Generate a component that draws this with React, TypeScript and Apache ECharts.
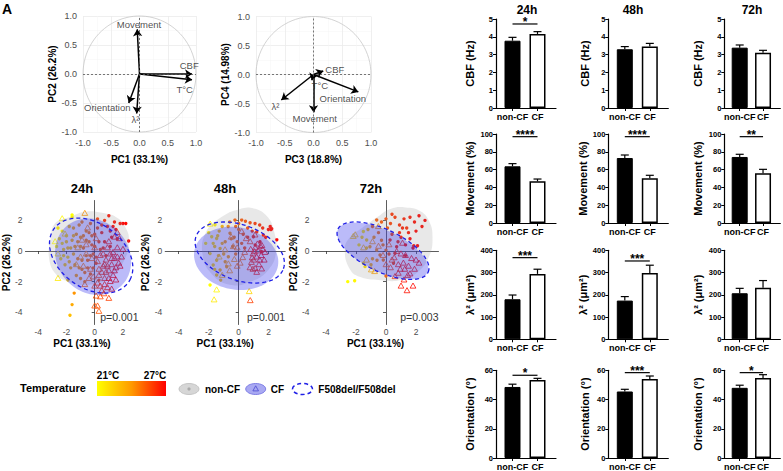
import React, { useEffect, useRef } from 'react';
import * as echarts from 'echarts';

const W = 783;
const H = 471;
const FONT = '"Liberation Sans Narrow", "Arial Narrow", "Liberation Sans", Arial, sans-serif';

// ---------- PCA biplots ----------
const vars1 = ['Movement', 'CBF', 'T°C', 'Orientation', 'λ²'];
const load1 = [[-0.04, 0.77], [0.93, 0.0], [0.93, -0.1], [-0.19, -0.5], [-0.05, -0.68]];
const lab1 = [[-0.01, 0.86], [0.88, 0.15], [0.8, -0.26], [-0.57, -0.57], [-0.07, -0.79]];
const vars2 = ['CBF', 'T°C', 'Orientation', 'λ²', 'Movement'];
const load2 = [[0.17, 0.06], [-0.03, -0.1], [0.78, -0.3], [-0.56, -0.44], [0.0, -0.65]];
const lab2 = [[0.37, 0.08], [0.11, -0.19], [0.51, -0.42], [-0.66, -0.56], [0.02, -0.76]];

// ---------- PCA score plots (PC1, PC2, temperature °C) ----------
const times = ['24h', '48h', '72h'];
const pValues = ['p=0.001', 'p=0.001', 'p=0.003'];
const scoreTicks = [-4, -2, 0, 2];

const nonCF24 = [
  [-2.7, 0.3, 21.0], [-2.5, 0.8, 21.4], [-2.3, 1.3, 21.2], [-2.2, 0.1, 21.8], [-2.0, 0.6, 22.0], [-1.9, -0.4, 21.6],
  [-1.6, 2.2, 21.3], [-1.6, 2.35, 21.0], [-2.6, 1.5, 21.4], [-2.1, -0.9, 22.0], [-1.8, 1.6, 22.2], [-1.5, 1.0, 22.4],
  [-2.4, -0.5, 21.5], [-1.7, 0.2, 22.3], [-1.4, 0.3, 23.0], [-1.2, -0.5, 23.5], [-1.0, 0.9, 23.2], [-0.9, -1.2, 23.8],
  [-0.8, 0.2, 24.0], [-0.6, 1.3, 23.6], [-0.5, -0.6, 24.2], [-0.4, 0.6, 24.0], [-0.3, -1.5, 24.5], [-0.2, 1.0, 24.3],
  [-1.3, -1.6, 23.0], [-1.1, 1.7, 23.4], [-0.7, -2.0, 24.0], [0.0, 0.3, 24.6], [0.1, -0.8, 24.8], [0.2, 1.5, 25.0],
  [-1.7, -1.1, 22.8], [-1.5, -0.2, 22.6], [-0.9, 1.9, 23.8], [-0.1, -0.2, 24.5], [-1.2, 0.6, 23.3], [-0.6, -0.3, 23.9],
  [0.2, 2.1, 25.5], [0.5, 1.2, 25.8], [0.7, 0.6, 26.0], [0.9, 1.6, 26.2], [1.0, 2.3, 26.6], [1.2, 0.9, 26.4],
  [1.3, 1.6, 26.8], [1.4, 1.9, 26.5], [1.5, 1.4, 26.9], [1.8, 1.8, 26.7], [2.0, 1.8, 27.0], [2.2, 1.8, 26.8],
  [2.4, 0.65, 27.0], [1.1, 0.3, 26.0], [0.8, -0.3, 25.6], [0.4, 0.1, 25.2], [1.6, 0.8, 26.5],
  [-1.45, -2.75, 23.5], [-1.6, -3.5, 23.0], [-1.75, -4.2, 22.5], [-1.9, -1.9, 22.0],
  [-2.2, -0.3, 21.7], [-2.0, 1.0, 21.9], [-1.9, 0.2, 22.1], [-1.8, -0.7, 22.3], [-1.6, 0.7, 22.5], [-1.4, -0.9, 22.9],
  [-1.3, 1.1, 23.1], [-1.1, -1.1, 23.4], [-1.0, 0.3, 23.3], [-0.9, -0.6, 23.7], [-0.8, 1.0, 23.6], [-0.7, -1.4, 24.0],
  [-0.6, 0.7, 23.9], [-0.5, -1.1, 24.3], [-0.4, 1.2, 24.1], [-0.3, -0.3, 24.4], [-0.2, 0.4, 24.5], [-0.1, -1.1, 24.7],
  [0.0, 1.1, 24.8], [0.1, -0.4, 25.0], [0.3, 0.6, 25.3], [0.3, -1.9, 25.0], [-1.0, -1.8, 23.5], [-1.5, 1.5, 22.8],
  [-2.3, 0.5, 21.5], [-0.3, 1.8, 24.2], [0.5, 1.7, 25.6], [0.7, 2.0, 26.0], [1.1, 1.3, 26.4], [0.6, 0.2, 25.7],
];
const cf24 = [
  [-2.8, 0.6, 21.0], [-2.6, -0.2, 21.3], [-2.3, 2.1, 21.2], [-2.1, 1.1, 21.6], [-2.6, -1.8, 21.5], [-0.7, 2.45, 23.5],
  [-1.0, -0.4, 23.5], [-0.8, -1.0, 24.0], [-0.6, 0.4, 24.2], [-0.4, -1.8, 24.5], [-0.2, -0.5, 24.6], [0.0, -2.3, 25.0],
  [-0.5, 1.5, 24.0], [0.1, 0.8, 24.8], [0.3, -1.2, 25.2], [-1.3, -0.9, 23.2], [-0.9, 0.7, 23.8],
  [0.4, -0.3, 25.8], [0.6, -1.0, 26.0], [0.7, -1.8, 26.2], [0.8, -0.6, 26.3], [0.9, -2.4, 26.0], [1.0, -1.3, 26.5],
  [1.1, -0.2, 26.6], [1.2, -0.9, 26.8], [1.3, -1.6, 26.7], [1.4, -0.5, 27.0], [1.5, -1.1, 26.9], [1.6, 0.2, 26.8],
  [1.7, -0.8, 27.0], [1.1, -2.0, 26.4], [0.5, -2.6, 25.8], [0.2, -2.1, 25.5], [0.9, 0.2, 26.2], [1.4, 0.9, 26.5],
  [1.6, 1.2, 26.0], [1.75, 0.8, 26.3], [0.3, -1.6, 25.4], [0.6, -0.2, 26.0], [1.9, -0.4, 27.0], [1.2, -2.5, 26.3],
  [0.8, -1.4, 26.1], [1.3, -0.1, 26.7],
  [0.0, -3.6, 25.0], [0.2, -3.6, 25.2], [0.3, -3.95, 25.0], [0.4, -3.0, 25.3], [1.0, -3.1, 25.5], [0.65, -2.8, 25.4], [0.1, -2.95, 25.0],
  [-0.3, -1.2, 24.6], [-0.1, -1.7, 24.9], [0.2, -0.7, 25.4], [0.5, -1.4, 25.9], [0.7, -2.2, 26.1], [0.9, -1.0, 26.3],
  [1.0, -1.8, 26.5], [1.2, -0.5, 26.7], [1.4, -1.3, 26.9], [1.6, -0.4, 27.0], [1.8, -1.0, 26.8], [0.4, -2.3, 25.6],
  [0.7, -0.9, 26.2], [1.0, 0.6, 26.4], [-0.7, -2.2, 24.2], [-0.6, -0.2, 24.0], [0.0, 0.2, 24.8], [1.5, -1.9, 26.5],
  [2.0, 0.1, 27.0], [-1.2, 0.2, 23.3],
];
const nonCF48 = [
  [-1.91, -2.22, 21.0], [-1.58, 1.71, 21.2], [-1.8, 0.93, 21.5], [-1.47, 0.82, 21.8], [-1.24, 0.17, 22.2], [-1.91, -0.17, 21.6],
  [-1.47, -0.6, 22.0], [-1.7, -0.91, 21.8], [-1.24, -1.24, 22.5], [-1.47, -1.57, 22.0], [-2.2, 0.5, 21.3], [-1.6, 0.3, 22.0],
  [-1.3, 1.3, 22.4], [-2.0, 1.2, 21.4],
  [-0.69, -0.37, 23.0], [-0.8, -1.03, 23.0], [-0.58, 1.16, 23.5], [-0.3, 0.9, 24.0], [0.0, 1.4, 24.2], [-0.9, 0.6, 23.2],
  [-0.4, 0.3, 23.8], [-1.0, -0.2, 22.8], [-0.2, -0.2, 24.0], [0.2, 0.5, 24.5], [-0.7, 1.6, 23.6],
  [-0.25, 2.02, 24.8], [0.2, 2.02, 25.0], [0.45, 1.95, 25.2], [0.76, 1.85, 25.5], [1.09, 1.8, 25.8], [1.4, 1.7, 26.0],
  [0.0, 1.8, 24.6], [-0.6, 1.9, 24.0],
  [2.1, 1.6, 26.8], [1.98, 1.4, 27.0], [2.15, 1.4, 27.0], [2.2, 1.45, 26.9], [2.54, 0.73, 27.0], [0.98, 0.93, 26.2],
  [1.42, 0.6, 26.5], [1.64, 1.04, 26.7], [1.53, -0.04, 26.8], [0.6, 0.9, 25.6], [1.2, 1.25, 26.3],
  [-1.35, -0.3, 22.3], [-1.6, -1.2, 21.9], [-1.1, 0.5, 22.6], [-1.4, 1.0, 22.0], [-0.9, -0.7, 23.0], [-0.5, 0.8, 23.8],
  [-0.1, 0.6, 24.3], [0.3, 1.1, 24.9], [0.6, 1.5, 25.4], [0.9, 1.3, 25.9], [1.6, 1.5, 26.4], [1.8, 0.9, 26.8],
  [-0.2, 1.6, 24.5], [-1.1, 1.6, 22.8], [0.4, 0.2, 25.0], [1.1, 0.4, 26.0], [-1.7, 0.5, 21.7], [-1.2, -1.9, 22.2],
];
const cf48 = [
  [-1.47, -2.55, 21.2], [-1.64, -3.2, 21.5], [-1.9, 1.75, 21.3], [-1.3, -0.4, 22.3],
  [-0.29, -0.56, 23.5], [0.27, -0.44, 24.5], [-0.69, -0.85, 23.2], [-0.91, 0.07, 23.0], [-0.36, 0.28, 24.0], [0.2, 1.26, 24.8],
  [0.76, 0.6, 25.5], [1.09, 1.04, 25.8], [-0.1, -1.0, 24.2],
  [0.8, 0.1, 26.2], [0.95, -0.2, 26.5], [1.1, 0.2, 26.7], [1.2, -0.4, 26.8], [1.3, 0.0, 27.0], [1.4, -0.6, 26.9],
  [1.5, -0.3, 27.0], [1.6, 0.1, 26.6], [1.7, -0.6, 27.0], [1.0, -0.6, 26.4], [1.25, 0.45, 26.5], [1.55, 0.35, 26.8],
  [0.9, -0.45, 26.3], [0.75, -1.1, 26.0], [0.95, -1.2, 26.2], [1.1, -1.15, 26.4], [1.53, -1.18, 26.8],
  [0.77, -3.25, 25.5], [0.7, -2.66, 22.0],
  [-0.6, -1.3, 23.4], [0.1, -0.8, 24.4], [0.4, -0.1, 25.0], [0.5, 0.8, 25.2], [-0.5, 0.9, 23.8], [1.35, -0.9, 26.7],
  [1.75, -0.1, 26.9], [0.85, -0.75, 26.1], [1.45, 0.3, 26.6], [1.05, -0.05, 26.5], [-1.1, -1.6, 22.6], [1.2, -1.4, 26.5],
  [-0.1, 0.2, 24.2],
];
const nonCF72 = [
  [-0.62, 2.03, 24.8], [-0.3, 1.9, 25.0], [0.0, 2.1, 25.3], [0.3, 1.8, 25.5], [0.6, 2.2, 25.8], [0.9, 1.7, 26.0],
  [1.2, 2.1, 26.3], [1.38, 1.5, 26.0], [1.6, 2.2, 26.5], [1.9, 1.9, 26.7], [2.2, 2.3, 27.0], [2.4, 1.6, 26.8],
  [2.6, 2.0, 27.0], [-0.9, 1.6, 24.4], [0.4, 2.4, 25.8],
  [-1.51, 1.27, 21.3], [-1.29, 0.72, 21.8], [-1.51, -0.8, 21.5], [-1.4, -1.02, 21.6], [-2.55, -2.0, 21.0], [-2.09, -1.94, 21.2],
  [-1.8, 0.4, 21.4], [-1.2, 1.4, 22.3],
  [-1.07, 0.28, 23.0], [-0.62, 0.06, 23.5], [-0.4, -0.26, 23.8], [0.0, 0.06, 24.2], [-0.8, 0.9, 23.3], [-0.3, 0.7, 24.0],
  [-0.18, -0.59, 24.0], [0.0, -1.63, 24.8], [-0.9, -0.5, 23.0],
  [0.27, 0.72, 25.8], [0.71, 0.28, 26.2], [0.6, -0.15, 26.0], [1.0, 0.9, 26.5], [1.3, 0.4, 26.8], [1.6, 0.8, 27.0],
  [1.8, 0.2, 26.9], [2.1, 0.35, 27.0], [1.85, 0.35, 26.6], [0.9, 1.2, 26.3],
  [-1.3, 0.2, 22.0], [-1.0, -0.9, 22.6], [-0.6, -0.6, 23.4], [-0.2, 0.4, 24.0], [0.2, -0.2, 25.0], [0.4, 1.1, 25.4],
  [0.8, 0.6, 26.0], [1.1, 1.5, 26.3], [1.5, 1.2, 26.6], [2.0, 1.3, 26.9], [-0.5, 1.2, 24.2], [0.1, 1.5, 25.0],
  [-1.6, 0.9, 21.6], [1.3, -0.3, 26.5], [0.5, -0.8, 25.5],
];
const cf72 = [
  [-2.18, 0.94, 22.0], [-2.05, 1.05, 22.2], [-0.51, 1.59, 23.5], [-0.98, -1.24, 23.0], [-0.76, -1.35, 23.2],
  [-1.5, 0.2, 22.5], [-0.5, 0.3, 24.0], [0.2, 0.4, 24.8], [-0.2, -0.3, 24.5],
  [0.71, -0.04, 26.0], [0.82, -0.9, 26.5], [1.16, -0.8, 26.8], [0.6, -1.68, 26.2], [0.82, -1.46, 26.4], [1.3, -0.3, 27.0],
  [1.5, -1.0, 26.9], [1.7, -0.5, 27.0], [1.9, -1.2, 26.8], [1.2, -1.9, 26.6], [1.0, -0.2, 26.7], [1.45, -1.6, 26.5],
  [1.8, -2.3, 26.8], [2.2, -0.8, 27.0], [0.4, -0.6, 25.5], [1.1, 0.5, 26.4],
  [0.3, -1.1, 25.5], [0.55, -0.45, 26.0], [0.95, -1.2, 26.4], [1.25, -1.2, 26.7], [1.6, -1.5, 26.8], [2.0, -0.6, 27.0],
  [1.0, -2.3, 26.5], [1.4, -2.6, 26.6], [-0.9, 0.6, 23.2], [-1.3, -0.6, 22.6], [0.0, -0.9, 24.8],
];
const nonCFPts = [nonCF24, nonCF48, nonCF72];
const cfPts = [cf24, cf48, cf72];

// non-CF density outline (vertices in PC units)
const grayBlob = [
  [[-2.8, 1.81], [-1.69, 2.24], [-0.69, 2.57], [0.53, 2.5], [1.64, 2.14], [2.27, 1.37], [2.42, 0.61], [2.2, -0.37],
    [1.2, -1.68], [-0.53, -2.22], [-1.87, -2.0], [-2.8, -1.46], [-3.24, -0.37], [-3.13, 0.72]],
  [[-2.2, 1.2], [-1.1, 2.25], [0.0, 2.72], [1.0, 2.78], [1.9, 2.25], [2.35, 1.3], [2.5, 0.0], [2.0, -1.2],
    [0.8, -2.0], [-0.6, -2.2], [-1.8, -1.5], [-2.4, -0.3]],
  [[-2.75, 0.1], [-2.4, 0.9], [-1.6, 1.5], [-0.6, 2.2], [0.3, 2.75], [1.3, 2.85], [2.3, 2.6], [2.9, 1.9], [3.1, 0.9],
    [2.9, -0.3], [2.2, -1.3], [1.0, -1.9], [-0.5, -1.9], [-1.7, -1.7], [-2.4, -1.2]],
];
// ellipses: [cx, cy, semi-major, semi-minor, angle°]
const cfEllipse = [[-0.11, -0.37, 2.78, 2.4, -30], [-0.17, -0.48, 2.83, 2.04, -10], [-0.22, 0.0, 3.3, 1.35, -25]];
const f508Ellipse = [[-0.25, -0.3, 3.17, 2.16, -30], [0.07, -0.1, 3.1, 1.8, -20], [-0.2, 0.02, 3.32, 1.38, -25]];

// ---------- bar charts ----------
const groups = ['non-CF', 'CF'];
const metrics = ['CBF (Hz)', 'Movement (%)', 'λ² (μm²)', 'Orientation (°)'];
const yMax = [5, 100, 400, 60];
const yStep = [1, 20, 100, 20];
const cbfMean = [[3.78, 4.16], [3.3, 3.45], [3.39, 3.11]];
const cbfSem = [[0.19, 0.13], [0.15, 0.18], [0.15, 0.13]];
const movMean = [[63.7, 46.8], [73.0, 50.2], [74.2, 55.8]];
const movSem = [[3.0, 2.6], [3.4, 3.4], [3.0, 4.5]];
const lamMean = [[180, 294], [174, 298], [207, 232]];
const lamSem = [[19, 21], [18, 35], [22, 32]];
const oriMean = [[48.6, 53.4], [45.5, 54.1], [48.0, 54.8]];
const oriSem = [[1.9, 1.1], [1.5, 2.0], [1.8, 2.2]];
const sigLabel = [['*', '', ''], ['****', '****', '**'], ['***', '***', ''], ['*', '***', '*']];
const sigY = [[4.72, 0, 0], [97, 97, 97], [367, 352, 0], [56.6, 58.4, 58.4]];

// ---------- legend ----------
const tempRange = [21, 27];
const tempLabels = ['21°C', '27°C'];
const legendNames = ['non-CF', 'CF', 'F508del/F508del'];

function tempColor(t: number) {
  const f = Math.min(1, Math.max(0, (t - tempRange[0]) / (tempRange[1] - tempRange[0])));
  return `rgb(255,${Math.round(255 * (1 - f))},0)`;
}

function ellipsePts(e: number[]) {
  const [cx, cy, a, b, deg] = e;
  const th = (deg * Math.PI) / 180;
  const pts: number[][] = [];
  for (let k = 0; k < 90; k++) {
    const p = (k / 90) * 2 * Math.PI;
    const x = a * Math.cos(p);
    const y = b * Math.sin(p);
    pts.push([cx + x * Math.cos(th) - y * Math.sin(th), cy + x * Math.sin(th) + y * Math.cos(th)]);
  }
  return pts;
}

function buildOption() {
  const grid: any[] = [];
  const xAxis: any[] = [];
  const yAxis: any[] = [];
  const series: any[] = [];
  const graphic: any[] = [];

  const nameStyle = (size: number) => ({ fontWeight: 'bold', fontSize: size, color: '#000', fontFamily: FONT });

  // ---- biplots ----
  const biGrids = [
    { left: 83, top: 16, width: 113, height: 116, xn: 'PC1 (33.1%)', yn: 'PC2 (26.2%)', ygap: 26, vars: vars1, load: load1, lab: lab1 },
    { left: 256, top: 16.5, width: 115, height: 116, xn: 'PC3 (18.8%)', yn: 'PC4 (14.98%)', ygap: 23, vars: vars2, load: load2, lab: lab2 },
  ];
  biGrids.forEach((b, i) => {
    grid.push({ left: b.left, top: b.top, width: b.width, height: b.height });
    const common = {
      gridIndex: i, type: 'value', min: -1, max: 1, interval: 0.5,
      axisLine: { show: false }, axisTick: { show: false },
      axisLabel: { color: '#4d4d4d', fontSize: 9, fontFamily: FONT, formatter: (v: number) => v.toFixed(1) },
      splitLine: { show: true, lineStyle: { color: '#ebebeb', width: 0.8 } },
      minorTick: { show: false, splitNumber: 2 },
      minorSplitLine: { show: true, lineStyle: { color: '#f4f4f4', width: 0.5 } },
      nameLocation: 'middle', nameTextStyle: nameStyle(10),
    };
    xAxis.push({ ...common, name: b.xn, nameGap: 22, axisLabel: { ...common.axisLabel, margin: 6 } });
    yAxis.push({ ...common, name: b.yn, nameGap: b.ygap, axisLabel: { ...common.axisLabel, margin: 6 } });
    series.push({
      type: 'custom', xAxisIndex: i, yAxisIndex: i, data: [[0, 0]], encode: { x: 0, y: 1 }, silent: true, z: 2,
      renderItem: (_p: any, api: any) => ({
        type: 'polygon',
        shape: { points: ellipsePts([0, 0, 1, 1, 0]).map((v) => api.coord(v)) },
        style: { fill: 'none', stroke: '#c8c8c8', lineWidth: 0.8 },
      }),
    });
    series.push({
      type: 'scatter', xAxisIndex: i, yAxisIndex: i, symbolSize: 1, silent: true, z: 5,
      itemStyle: { color: 'transparent' },
      data: b.lab.map((p, k) => ({ name: b.vars[k], value: p })),
      label: { show: true, position: 'inside', formatter: '{b}', fontSize: 9.5, color: '#222', fontFamily: FONT },
      markLine: {
        silent: true, symbol: ['none', 'none'], label: { show: false },
        lineStyle: { type: [2, 2], color: '#555', width: 0.8 },
        data: [{ xAxis: 0 }, { yAxis: 0 }],
      },
    });
    series.push({
      type: 'lines', coordinateSystem: 'cartesian2d', xAxisIndex: i, yAxisIndex: i, silent: true, z: 4,
      symbol: ['none', 'arrow'], symbolSize: 7,
      lineStyle: { color: '#000', width: 1.5, opacity: 1, curveness: 0 },
      data: b.load.map((l) => ({ coords: [[0, 0], l] })),
    });
  });

  // ---- score plots ----
  const scLeft = [18.5, 165.2, 312.5];
  const scMax = [3.1, 3.1, 3.5];
  const titleX = [82, 225, 371];
  times.forEach((t, p) => {
    const gi = 2 + p;
    const xMin = -4.9;
    grid.push({ left: scLeft[p], top: 200.5, width: (scMax[p] - xMin) * 15, height: 124 });
    const axLine = { show: true, lineStyle: { color: '#333', width: 0.8 } };
    const lbl = { color: '#4d4d4d', fontSize: 8.5, fontFamily: FONT, customValues: scoreTicks };
    xAxis.push({
      gridIndex: gi, type: 'value', min: xMin, max: scMax[p], axisLine: axLine,
      axisTick: { show: true, length: 3, customValues: scoreTicks, lineStyle: { color: '#333', width: 0.8 } },
      axisLabel: { ...lbl, margin: 3 }, splitLine: { show: false },
      name: 'PC1 (33.1%)', nameLocation: 'middle', nameGap: 14, nameTextStyle: nameStyle(10),
    });
    yAxis.push({
      gridIndex: gi, type: 'value', min: -4.8, max: 3.3, axisLine: axLine,
      axisTick: { show: true, length: 3, customValues: scoreTicks, lineStyle: { color: '#333', width: 0.8 } },
      axisLabel: { ...lbl, margin: 3 }, splitLine: { show: false },
      name: 'PC2 (26.2%)', nameLocation: 'middle', nameGap: 13, nameTextStyle: nameStyle(10),
    });
    series.push({
      type: 'custom', xAxisIndex: gi, yAxisIndex: gi, data: nonCFPts[p], encode: { x: 0, y: 1 }, z: 2, silent: true,
      renderItem: (_q: any, api: any) => {
        const c = api.coord([api.value(0), api.value(1)]);
        return { type: 'circle', shape: { cx: c[0], cy: c[1], r: 1.7 }, style: { fill: tempColor(api.value(2)) } };
      },
    });
    series.push({
      type: 'custom', xAxisIndex: gi, yAxisIndex: gi, data: cfPts[p], encode: { x: 0, y: 1 }, z: 2, silent: true,
      renderItem: (_q: any, api: any) => {
        const c = api.coord([api.value(0), api.value(1)]);
        return {
          type: 'polygon',
          shape: { points: [[c[0], c[1] - 3.2], [c[0] - 2.9, c[1] + 1.9], [c[0] + 2.9, c[1] + 1.9]] },
          style: { fill: 'none', stroke: tempColor(api.value(2)), lineWidth: 0.8 },
        };
      },
    });
    series.push({
      type: 'custom', xAxisIndex: gi, yAxisIndex: gi, data: [[0, 0]], encode: { x: 0, y: 1 }, z: 3, silent: true,
      renderItem: (_q: any, api: any) => ({
        type: 'polygon', shape: { points: grayBlob[p].map((v) => api.coord(v)), smooth: 0.45 },
        style: { fill: 'rgba(150,150,150,0.22)' },
      }),
    });
    series.push({
      type: 'custom', xAxisIndex: gi, yAxisIndex: gi, data: [[0, 0]], encode: { x: 0, y: 1 }, z: 4, silent: true,
      renderItem: (_q: any, api: any) => ({
        type: 'polygon', shape: { points: ellipsePts(cfEllipse[p]).map((v) => api.coord(v)) },
        style: { fill: 'rgba(30,30,235,0.3)' },
      }),
    });
    series.push({
      type: 'custom', xAxisIndex: gi, yAxisIndex: gi, data: [[0, 0]], encode: { x: 0, y: 1 }, z: 5, silent: true,
      renderItem: (_q: any, api: any) => ({
        type: 'polygon', shape: { points: ellipsePts(f508Ellipse[p]).map((v) => api.coord(v)) },
        style: { fill: 'none', stroke: '#1f1fe6', lineWidth: 1.3, lineDash: [4, 3] },
      }),
    });
    graphic.push({
      type: 'text', x: titleX[p], y: 188,
      style: { text: t, font: `bold 13px ${FONT}`, fill: '#000', align: 'center', verticalAlign: 'middle' },
    });
    const right = scLeft[p] + (scMax[p] - xMin) * 15;
    graphic.push({
      type: 'text', x: right, y: 317,
      style: { text: pValues[p], font: `10.5px ${FONT}`, fill: '#333', align: 'right', verticalAlign: 'middle' },
    });
  });

  // ---- bar charts ----
  const colLeft = [496, 608.3, 724.3];
  const colWidth = [60, 60, 56];
  const rowTop = [19, 134, 250.3, 370.3];
  const rowH = [89, 89, 89, 88];
  const barPos = [0.66, 1.66];
  const means = [cbfMean, movMean, lamMean, oriMean];
  const sems = [cbfSem, movSem, lamSem, oriSem];
  const barTitleX = [527, 633, 752];
  for (let r = 0; r < 4; r++) {
    for (let c = 0; c < 3; c++) {
      const gi = 5 + r * 3 + c;
      grid.push({ left: colLeft[c], top: rowTop[r], width: colWidth[c], height: rowH[r] });
      xAxis.push({
        gridIndex: gi, type: 'value', min: 0, max: 2.4,
        axisLine: { show: true, lineStyle: { color: '#000', width: 1.2 } },
        axisTick: { show: true, length: 3, customValues: barPos, lineStyle: { color: '#000', width: 1 } },
        axisLabel: {
          customValues: barPos, formatter: (v: number) => (v < 1.16 ? groups[0] : groups[1]),
          fontWeight: 'bold', fontSize: 9, color: '#000', margin: 4, fontFamily: FONT,
          hideOverlap: false, showMinLabel: true, showMaxLabel: true,
        },
        splitLine: { show: false },
      });
      yAxis.push({
        gridIndex: gi, type: 'value', min: 0, max: yMax[r], interval: yStep[r],
        axisLine: { show: true, lineStyle: { color: '#000', width: 1.2 } },
        axisTick: { show: true, length: 3, lineStyle: { color: '#000', width: 1 } },
        axisLabel: { fontSize: 7.5, fontWeight: 'bold', color: '#000', margin: 3, fontFamily: FONT },
        splitLine: { show: false },
        name: metrics[r], nameLocation: 'middle', nameGap: c === 1 ? 18 : 21, nameTextStyle: nameStyle(11),
      });
      const m = means[r][c];
      const s = sems[r][c];
      series.push({
        type: 'bar', xAxisIndex: gi, yAxisIndex: gi, barWidth: 16, silent: true, z: 2,
        data: [
          { value: [barPos[0], m[0]], itemStyle: { color: '#000', borderColor: '#000', borderWidth: 1 } },
          { value: [barPos[1], m[1]], itemStyle: { color: '#fff', borderColor: '#000', borderWidth: 1.5 } },
        ],
      });
      series.push({
        type: 'custom', xAxisIndex: gi, yAxisIndex: gi, silent: true, z: 3,
        data: [[barPos[0], m[0], s[0]], [barPos[1], m[1], s[1]]], encode: { x: 0, y: 1 },
        renderItem: (_q: any, api: any) => {
          const base = api.coord([api.value(0), api.value(1)]);
          const top = api.coord([api.value(0), api.value(1) + api.value(2)]);
          return {
            type: 'group',
            children: [
              { type: 'line', shape: { x1: base[0], y1: base[1], x2: top[0], y2: top[1] }, style: { stroke: '#000', lineWidth: 1.2 } },
              { type: 'line', shape: { x1: top[0] - 4, y1: top[1], x2: top[0] + 4, y2: top[1] }, style: { stroke: '#000', lineWidth: 1.2 } },
            ],
          };
        },
      });
      if (sigLabel[r][c]) {
        const lbl = sigLabel[r][c];
        series.push({
          type: 'custom', xAxisIndex: gi, yAxisIndex: gi, silent: true, z: 3,
          data: [[barPos[0], sigY[r][c], barPos[1]]], encode: { x: 0, y: 1 },
          renderItem: (_q: any, api: any) => {
            const a = api.coord([api.value(0), api.value(1)]);
            const b = api.coord([api.value(2), api.value(1)]);
            return {
              type: 'group',
              children: [
                { type: 'line', shape: { x1: a[0], y1: a[1], x2: b[0], y2: b[1] }, style: { stroke: '#000', lineWidth: 1.2 } },
                {
                  type: 'text',
                  style: { text: lbl, x: (a[0] + b[0]) / 2, y: a[1] - 2, font: `bold 12px ${FONT}`, fill: '#000', align: 'center', verticalAlign: 'middle' },
                },
              ],
            };
          },
        });
      }
      if (r === 0) {
        graphic.push({
          type: 'text', x: barTitleX[c], y: 9.5,
          style: { text: times[c], font: `bold 12px ${FONT}`, fill: '#000', align: 'center', verticalAlign: 'middle' },
        });
      }
    }
  }

  // ---- panel label & legend ----
  graphic.push({ type: 'text', x: 7, y: 9, style: { text: 'A', font: `bold 14px ${FONT}`, fill: '#000', align: 'center', verticalAlign: 'middle' } });
  graphic.push({ type: 'text', x: 20, y: 388, style: { text: 'Temperature', font: `bold 11px ${FONT}`, fill: '#000', align: 'left', verticalAlign: 'middle' } });
  graphic.push({
    type: 'rect', shape: { x: 97, y: 381, width: 69, height: 15 },
    style: {
      fill: new echarts.graphic.LinearGradient(0, 0, 1, 0, [
        { offset: 0, color: '#ffff00' }, { offset: 0.5, color: '#ff9a00' }, { offset: 1, color: '#ff0000' },
      ]),
    },
  });
  graphic.push({ type: 'text', x: 108, y: 375, style: { text: tempLabels[0], font: `bold 10px ${FONT}`, fill: '#000', align: 'center', verticalAlign: 'middle' } });
  graphic.push({ type: 'text', x: 155, y: 375, style: { text: tempLabels[1], font: `bold 10px ${FONT}`, fill: '#000', align: 'center', verticalAlign: 'middle' } });
  graphic.push({ type: 'ellipse', shape: { cx: 189, cy: 389, rx: 10, ry: 5.5 }, style: { fill: '#d6d6d6', stroke: '#bdbdbd', lineWidth: 0.8 } });
  graphic.push({ type: 'circle', shape: { cx: 189, cy: 389, r: 1.6 }, style: { fill: '#a9a9a9' } });
  graphic.push({ type: 'ellipse', shape: { cx: 255.7, cy: 389, rx: 10, ry: 5.5 }, style: { fill: '#a9a9f2', stroke: '#6b6be0', lineWidth: 0.8 } });
  graphic.push({ type: 'polygon', shape: { points: [[255.7, 385.8], [252.9, 390.9], [258.5, 390.9]] }, style: { fill: 'none', stroke: '#4a4ad0', lineWidth: 0.8 } });
  graphic.push({ type: 'ellipse', shape: { cx: 302.5, cy: 389, rx: 10, ry: 5.5 }, style: { fill: 'none', stroke: '#1f1fe6', lineWidth: 1.5, lineDash: [4, 3] } });
  const legX = [205, 270.7, 318.3];
  legendNames.forEach((n, i) => {
    graphic.push({ type: 'text', x: legX[i], y: 389, style: { text: n, font: `bold 10px ${FONT}`, fill: '#000', align: 'left', verticalAlign: 'middle' } });
  });

  return {
    animation: false,
    backgroundColor: '#fff',
    textStyle: { fontFamily: FONT },
    grid, xAxis, yAxis, series, graphic,
  };
}

export default function App() {
  const ref = useRef<HTMLDivElement>(null);
  useEffect(() => {
    const chart = echarts.init(ref.current as HTMLDivElement, null, { renderer: 'svg', width: W, height: H });
    chart.setOption(buildOption() as any);
    return () => chart.dispose();
  }, []);
  return <div ref={ref} style={{ position: 'absolute', left: 0, top: 0, width: W, height: H, background: '#fff' }} />;
}
